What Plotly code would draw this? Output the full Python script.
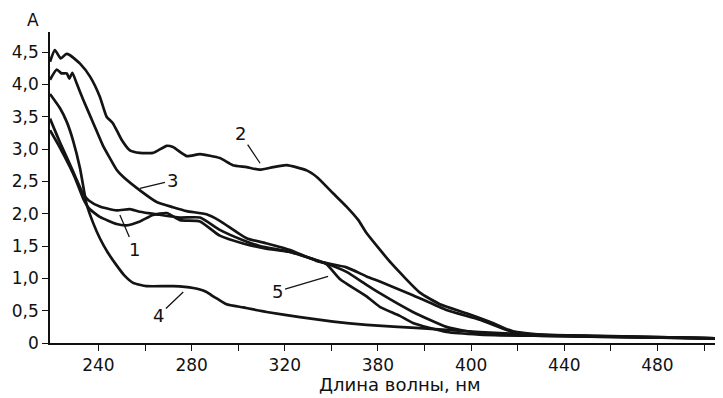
import plotly.graph_objects as go

# ---- data (wavelength, nm ; absorbance) ----
wl_2 = [219.2, 221.3, 223.8, 226.1, 227.8, 232.1, 236.4, 240.6, 243.5, 246.2, 250.0, 253.5, 257.8,
        263.4, 269.3, 272.0, 277.9, 283.6, 292.1, 297.7, 303.6, 309.3, 315.0, 320.8, 329.4, 334.0,
        340.6, 346.5, 351.6, 355.1, 365.8, 378.0, 386.6, 398.0, 409.3, 418.0, 430.0, 447.0, 480.0, 506.0]
a_2 = [4.35, 4.53, 4.40, 4.47, 4.45, 4.32, 4.12, 3.81, 3.50, 3.40, 3.14, 2.98, 2.94,
       2.94, 3.05, 3.03, 2.89, 2.92, 2.86, 2.75, 2.72, 2.68, 2.72, 2.75, 2.67, 2.56,
       2.32, 2.11, 1.90, 1.70, 1.23, 0.78, 0.60, 0.46, 0.31, 0.18, 0.13, 0.11, 0.09, 0.07]

wl_3 = [219.2, 222.1, 224.2, 226.4, 227.5, 228.8, 230.6, 233.5, 237.8, 242.1, 244.9, 247.8, 250.6,
        257.8, 265.0, 272.0, 277.9, 286.4, 292.1, 303.6, 312.2, 322.0, 333.6, 346.5, 355.1, 360.8,
        375.0, 389.4, 403.7, 417.9, 429.5, 455.0, 506.0]
a_3 = [4.07, 4.23, 4.17, 4.17, 4.09, 4.18, 4.02, 3.76, 3.40, 3.04, 2.86, 2.68, 2.57,
       2.36, 2.18, 2.10, 2.04, 1.99, 1.89, 1.62, 1.54, 1.44, 1.27, 1.17, 1.03, 0.95,
       0.74, 0.51, 0.36, 0.17, 0.13, 0.11, 0.07]

wl_1 = [219.2, 223.5, 227.8, 230.0, 233.5, 236.0, 240.6, 247.8, 253.5, 257.8, 265.0, 275.0, 283.6,
        292.1, 302.1, 309.3, 317.9, 322.2, 333.6, 337.9, 346.5, 355.1, 360.8, 375.0, 389.4, 403.7,
        418.0, 450.0, 506.0]
a_1 = [3.47, 3.10, 2.76, 2.58, 2.30, 2.20, 2.11, 2.05, 2.07, 2.03, 1.99, 1.94, 1.94,
       1.75, 1.59, 1.50, 1.44, 1.41, 1.28, 1.23, 1.10, 0.90, 0.77, 0.48, 0.25, 0.15,
       0.12, 0.10, 0.07]

wl_5 = [219.2, 223.5, 227.8, 230.0, 233.5, 236.0, 240.6, 247.8, 252.1, 257.8, 263.4, 269.3, 275.0,
        283.6, 292.1, 302.1, 312.0, 322.2, 333.6, 337.9, 343.6, 355.1, 360.8, 369.4, 375.0, 389.4,
        403.7, 430.0, 506.0]
a_5 = [3.29, 3.02, 2.72, 2.55, 2.23, 2.08, 1.95, 1.84, 1.82, 1.88, 1.98, 2.01, 1.90,
       1.88, 1.66, 1.54, 1.46, 1.41, 1.28, 1.22, 0.99, 0.72, 0.56, 0.42, 0.31, 0.17,
       0.13, 0.11, 0.07]

wl_4 = [219.2, 223.5, 226.4, 229.2, 232.1, 234.9, 237.8, 240.6, 244.0, 247.8, 251.0, 254.9, 260.7,
        272.0, 280.7, 286.4, 289.3, 292.1, 295.0, 302.1, 312.2, 326.5, 340.8, 355.1, 378.0, 403.7,
        430.0, 460.0, 506.0]
a_4 = [3.85, 3.63, 3.42, 3.12, 2.70, 2.15, 1.85, 1.62, 1.40, 1.20, 1.05, 0.93, 0.88,
       0.88, 0.85, 0.79, 0.72, 0.66, 0.60, 0.55, 0.48, 0.40, 0.33, 0.28, 0.23, 0.17,
       0.12, 0.10, 0.07]

# curve labels: (text, wavelength at tip, absorbance at tip, text offset px)
curve_labels = [("2", 309.4, 2.78, -20, -30),
                ("3", 257.8, 2.39, 33, -8),
                ("1", 249.2, 1.98, 15, 35),
                ("4", 276.4, 0.79, -25, 24),
                ("5", 338.6, 1.03, -51, 15)]

x_tickvals = [240, 260, 280, 300, 320, 340, 360, 380, 400, 420, 440, 460, 480, 500]
x_ticktext = ["240", "", "280", "", "320", "", "380", "", "400", "", "440", "", "480", ""]
y_tickvals = [0, 0.5, 1.0, 1.5, 2.0, 2.5, 3.0, 3.5, 4.0, 4.5]
y_ticktext = ["0", "0,5", "1,0", "1,5", "2,0", "2,5", "3,0", "3,5", "4,0", "4,5"]

FONT = "DejaVu Sans, Liberation Sans, Arial, sans-serif"
LINE = "#141414"

fig = go.Figure()
for xs, ys in [(wl_4, a_4), (wl_5, a_5), (wl_1, a_1), (wl_3, a_3), (wl_2, a_2)]:
    fig.add_trace(go.Scatter(x=xs, y=ys, mode="lines",
                             line=dict(color=LINE, width=2.7, shape="spline", smoothing=0.5),
                             hoverinfo="skip", showlegend=False))

for txt, x, y, ax, ay in curve_labels:
    fig.add_annotation(x=x, y=y, xref="x", yref="y", text=txt, showarrow=True,
                       arrowhead=0, arrowwidth=1.3, arrowcolor=LINE, ax=ax, ay=ay,
                       standoff=0, startstandoff=1,
                       font=dict(family=FONT, size=18, color="#111"))

fig.add_annotation(text="A", xref="paper", yref="paper", x=-0.0254, y=1.039,
                   showarrow=False, xanchor="center", yanchor="middle",
                   font=dict(family=FONT, size=17, color="#111"))
fig.add_annotation(text="Длина волны, нм", xref="paper", yref="paper", x=0.524, y=-0.132,
                   showarrow=False, xanchor="center", yanchor="middle",
                   font=dict(family=FONT, size=18, color="#111"))

fig.update_xaxes(range=[219.2, 506.0], tickvals=x_tickvals, ticktext=x_ticktext,
                 ticks="outside", ticklen=6, tickwidth=1.3, tickcolor="#111",
                 showline=True, linecolor="#111", linewidth=1.5, showgrid=False, zeroline=False,
                 automargin=False,
                 tickfont=dict(family=FONT, size=17, color="#111"))
fig.update_yaxes(range=[0, 4.81], tickvals=y_tickvals, ticktext=y_ticktext,
                 ticks="outside", ticklen=6, tickwidth=1.3, tickcolor="#111",
                 showline=True, linecolor="#111", linewidth=1.5, showgrid=False, zeroline=False,
                 automargin=False,
                 tickfont=dict(family=FONT, size=17, color="#111"))

# the page body adds an 8px offset, so the figure is 8px smaller in each direction
fig.update_layout(width=715, height=390, margin=dict(l=42, r=5, t=24, b=55),
                  plot_bgcolor="white", paper_bgcolor="white", showlegend=False)

fig.write_html("out.html")
